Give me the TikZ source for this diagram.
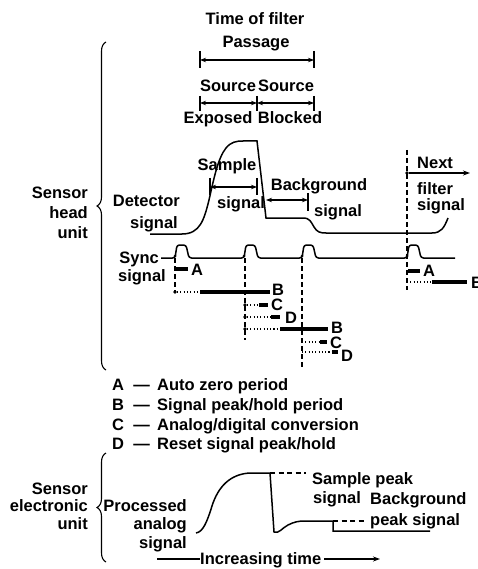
\documentclass[tikz,border=0pt]{standalone}
\usepackage{fontspec}
\setmainfont{Liberation Sans}
\usetikzlibrary{arrows.meta,decorations.pathreplacing}
\begin{document}
\begin{tikzpicture}[x=1pt,y=-1pt,
 t/.style={font=\fontsize{16.5}{18}\selectfont\bfseries, inner sep=0pt, anchor=base},
 ln/.style={line width=1.5pt},
 bar/.style={line width=3.6pt},
 dots/.style={line width=1.1pt, dash pattern=on 1.1pt off 2.2pt},
 dsh/.style={line width=1.1pt, dash pattern=on 5pt off 3pt},
 tip/.style={-{Stealth[length=7pt,width=5pt]}},
 dtip/.style={{Stealth[length=6pt,width=4.5pt]}-{Stealth[length=6pt,width=4.5pt]}},
 dot/.style={circle, fill, inner sep=0pt, minimum size=3.6pt},
 brc/.style={line width=1.1pt, decorate, decoration={brace, amplitude=9pt}}
]
\useasboundingbox (0,0) rectangle (478,569);

% ---------- top labels ----------
\node[t] (tof) at (255,25) {Time of filter};
\node[t] (pas) at (256,48) {Passage};
\coordinate (p1) at (200,60); \coordinate (p2) at (314,60);
\draw[ln,dtip] (p1) -- (p2);
\draw[ln] (200,51) -- (200,68) (314,51) -- (314,68);

\node[t] (src1) at (228,92) {Source};
\node[t] (src2) at (286,92) {Source};
\coordinate (s1) at (200,103); \coordinate (s2) at (257,103); \coordinate (s3) at (314,103);
\draw[ln,dtip] (s1) -- (s2);
\draw[ln,dtip] (s2) -- (s3);
\draw[ln] (200,96) -- (200,111) (257,96) -- (257,111) (314,96) -- (314,111);
\node[t] (exp) at (218,124) {Exposed};
\node[t] (blk) at (290,124) {Blocked};

% ---------- detector signal ----------
\draw[ln] (150,234) -- (182,234)
  .. controls (200,234) and (204,220) .. (209,200)
  .. controls (214,178) and (218,158) .. (226,148)
  .. controls (231,142) and (236,141) .. (243,141)
  -- (257,141) -- (266,218) -- (303,218)
  .. controls (310,218) and (311,222) .. (314,227)
  .. controls (317,232) and (320,233) .. (326,233)
  -- (432,233)
  .. controls (441,233) and (444,228) .. (448,218);

\node[t] (smp) at (227,171) {Sample};
\coordinate (sa1) at (210,187); \coordinate (sa2) at (257,187);
\draw[ln,dtip] (sa1) -- (sa2);
\draw[ln] (210,178) -- (210,195) (257,178) -- (257,195);
\node[t] (smps) at (241,208) {signal};

\node[t] (bkg) at (319,191) {Background};
\coordinate (ba1) at (266,200); \coordinate (ba2) at (308,200);
\draw[ln,dtip] (ba1) -- (ba2);
\draw[ln] (308,193) -- (308,211);
\node[t] (bkgs) at (338,216) {signal};

\node[t,anchor=base east] (det) at (180,206) {Detector};
\node[t,anchor=base east] (dets) at (178,228) {signal};

% next filter
\draw[dsh] (407,150) -- (407,290);
\node[dot] (nd) at (407,173) {};
\coordinate (ne) at (470,173);
\draw[ln,tip] (nd) -- (ne);
\node[t,anchor=base west] (nxt) at (417,169) {Next};
\node[t,anchor=base west] (nxf) at (417,194) {filter};
\node[t,anchor=base west] (nxs) at (417,211) {signal};

% ---------- sync signal ----------
\node[t,anchor=base east] (sync) at (159,263) {Sync};
\node[t,anchor=base east] (syncs) at (166,281) {signal};
\draw[ln,rounded corners=2.5pt] (161,258) -- (175,258) -- (177,245) -- (186,245) -- (189,258)
  -- (244,258) -- (246,245) -- (255,245) -- (258,258)
  -- (302,258) -- (304,245) -- (313,245) -- (316,258)
  -- (407,258) -- (409,245) -- (418,245) -- (421,258) -- (455,258);
\foreach \x in {175,244,302,407} \node[dot,minimum size=3pt] at (\x,256) {};

\draw[dsh] (175,258) -- (175,293);
\draw[dsh] (245,258) -- (245,340);
\draw[dsh] (302,258) -- (302,369);

% timing rows
\draw[bar] (176,269) -- (188,269);
\node[t,anchor=base west] (la1) at (191,275) {A};

\node[dot] (b1) at (175,292) {};
\draw[dots] (b1) -- (200,292);
\draw[bar] (200,292) -- (270,292);
\node[t,anchor=base west] (lb1) at (272,295) {B};

\node[dot] (c1) at (245,305) {};
\draw[dots] (c1) -- (259,305);
\draw[bar] (259,305) -- (268,305);
\node[t,anchor=base west] (lc1) at (271,310) {C};

\node[dot] (d1) at (245,317) {};
\draw[dots] (d1) -- (271,317);
\draw[bar] (271,317) -- (280,317);
\node[t,anchor=base west] (ld1) at (285,323) {D};

\node[dot] (b2) at (245,329) {};
\draw[dots] (b2) -- (280,329);
\draw[bar] (280,329) -- (328,329);
\node[t,anchor=base west] (lb2) at (331,333) {B};

\draw[dots] (302,342) -- (320,342);
\draw[bar] (320,342) -- (327,342);
\node[t,anchor=base west] (lc2) at (330,348) {C};

\draw[dots] (302,352) -- (332,352);
\draw[bar] (332,352) -- (338,352);
\node[t,anchor=base west] (ld2) at (341,361) {D};

\draw[bar] (408,271) -- (420,271);
\node[t,anchor=base west] (la2) at (423,276) {A};
\draw[dots] (407,282) -- (432,282);
\draw[bar] (432,282) -- (467,282);
\node[t,anchor=base west] (lb3) at (471,288) {B};

% ---------- braces ----------
\draw[brc] (106,370) -- (106,42);
\node[t,anchor=base east] (sh1) at (88,198) {Sensor};
\node[t,anchor=base east] (sh2) at (88,218) {head};
\node[t,anchor=base east] (sh3) at (88,238) {unit};

% ---------- legend ----------
\node[t,anchor=base west] (lgA) at (112,390) {\makebox[14pt][l]{A}\makebox[31pt]{—}Auto zero period};
\node[t,anchor=base west] (lgB) at (112,410) {\makebox[14pt][l]{B}\makebox[31pt]{—}Signal peak/hold period};
\node[t,anchor=base west] (lgC) at (112,430) {\makebox[14pt][l]{C}\makebox[31pt]{—}Analog/digital conversion};
\node[t,anchor=base west] (lgD) at (112,449) {\makebox[14pt][l]{D}\makebox[31pt]{—}Reset signal peak/hold};

% ---------- sensor electronic unit ----------
\draw[brc] (106,562) -- (106,453);
\node[t,anchor=base east] (se1) at (88,494) {Sensor};
\node[t,anchor=base east] (se2) at (88,511) {electronic};
\node[t,anchor=base east] (se3) at (88,529) {unit};

\node[t,anchor=base east] (pa1) at (187,511) {Processed};
\node[t,anchor=base east] (pa2) at (187,529) {analog};
\node[t,anchor=base east] (pa3) at (187,548) {signal};

\draw[ln] (196,533) .. controls (203,532) and (207,522) .. (212,506)
  .. controls (218,487) and (230,474) .. (250,473)
  -- (270,473) -- (274,532)
  .. controls (279,534) and (282,528) .. (288,525)
  .. controls (294,522) and (298,521) .. (305,521)
  -- (333,521) -- (333,531) -- (430,531);
\draw[dsh,dash pattern=on 5pt off 3.5pt] (270,473) -- (306,473);
\draw[dsh,dash pattern=on 5pt off 3.5pt] (333,521) -- (366,521);

\node[t,anchor=base west] (sp1) at (312,484) {Sample peak};
\node[t,anchor=base west] (sp2) at (313,503) {signal};
\node[t,anchor=base west] (bp1) at (370,504) {Background};
\node[t,anchor=base west] (bp2) at (370,525) {peak signal};

\node[t,anchor=base west] (inc) at (200,564) {Increasing time};
\coordinate (i0) at (157,559); \coordinate (i1) at (380,559);
\draw[ln] (i0) -- (inc.west |- i0);
\draw[ln,tip] (inc.east |- i1) ++(3,0) -- (i1);
\end{tikzpicture}
\end{document}
